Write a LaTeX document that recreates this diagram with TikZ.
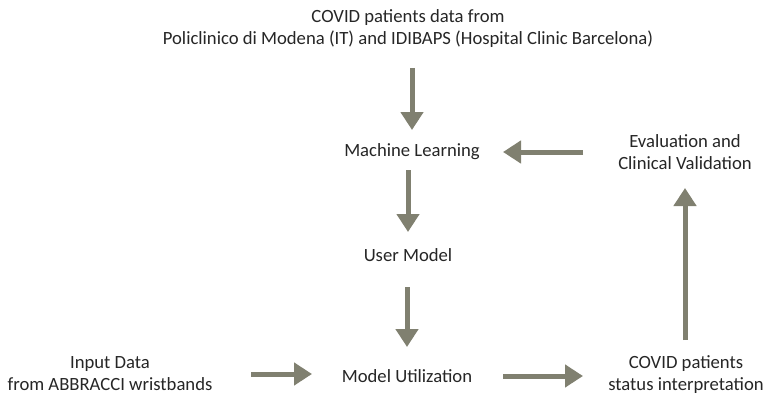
\documentclass[tikz,border=0pt]{standalone}
\usepackage{fontspec}
\setmainfont{Carlito}
\usetikzlibrary{arrows.meta}
\definecolor{arrowc}{RGB}{128,128,112}
\definecolor{txtc}{RGB}{38,38,38}
\begin{document}
\begin{tikzpicture}[x=1pt,y=-1pt,
 lbl/.style={align=center,inner sep=0pt,text=txtc,font=\fontsize{18.67}{22}\selectfont},
 arr/.style={draw=arrowc,line width=5pt,-{Triangle[width=22pt,length=18pt]}}]
\useasboundingbox[fill=white] (0,0) rectangle (768,396);
\node[lbl] (src) at (408,29) {COVID patients data from\\Policlinico di Modena (IT) and IDIBAPS (Hospital Clinic Barcelona)};
\node[lbl] (ml) at (412,152) {Machine Learning};
\node[lbl] (um) at (408,255) {User Model};
\node[lbl] (mu) at (407,376) {Model Utilization};
\node[lbl] (inp) at (110,374) {Input Data\\from ABBRACCI wristbands};
\node[lbl] (cov) at (686,375) {COVID patients\\status interpretation};
\node[lbl] (eval) at (685,152) {Evaluation and\\Clinical Validation};
\draw[arr,shorten <=39pt,shorten >=22pt] (ml.center |- src.center) -- (ml.center);
\draw[arr,shorten <=18pt,shorten >=23pt] (um.center |- ml.center) -- (um.center);
\draw[arr,shorten <=32pt,shorten >=29pt] (mu.center |- um.center) -- (mu.center);
\draw[arr,shorten <=141pt,shorten >=95pt] (inp.center) -- (mu.center |- inp.center);
\draw[arr,shorten <=96pt,shorten >=103pt] (mu.center) -- (cov.center |- mu.center);
\draw[arr,shorten <=35pt,shorten >=36pt] (eval.center |- cov.center) -- (eval.center);
\draw[arr,shorten <=102pt,shorten >=91pt] (eval.center) -- (ml.center);
\end{tikzpicture}
\end{document}
